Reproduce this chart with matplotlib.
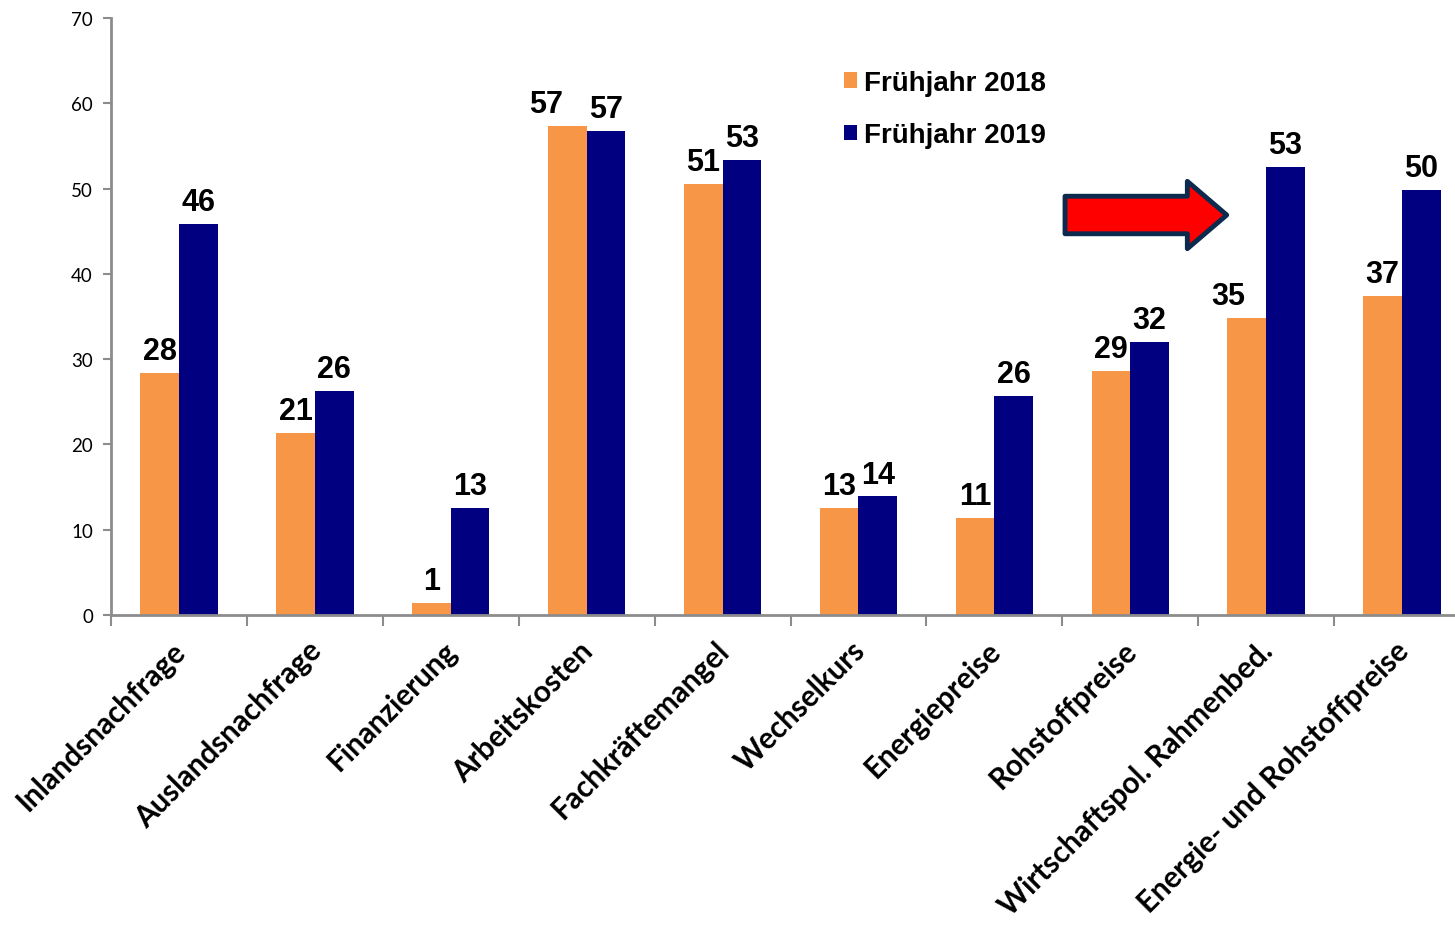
# Bar chart: Risiken für die Geschäftsentwicklung, Frühjahr 2018 vs. 2019
import matplotlib.pyplot as plt
import matplotlib.patches as mpatches
import matplotlib.transforms as mtransforms
import numpy as np

categories = ['Inlandsnachfrage', 'Auslandsnachfrage', 'Finanzierung', 'Arbeitskosten',
              'Fachkräftemangel', 'Wechselkurs', 'Energiepreise', 'Rohstoffpreise',
              'Wirtschaftspol. Rahmenbed.', 'Energie- und Rohstoffpreise']
values_2018 = [28.4, 21.3, 1.4, 57.3, 50.5, 12.6, 11.4, 28.6, 34.8, 37.4]
values_2019 = [45.9, 26.3, 12.6, 56.7, 53.3, 13.9, 25.7, 32.0, 52.5, 49.8]
labels_2018 = [28, 21, 1, 57, 51, 13, 11, 29, 35, 37]
labels_2019 = [46, 26, 13, 57, 53, 14, 26, 32, 53, 50]

orange = '#F79646'
navy = '#000080'
grey = '#8c8c8c'

fig = plt.figure(figsize=(14.55, 9.28), dpi=100)
ax = fig.add_axes([111 / 1455, 1 - 616 / 928, 1359 / 1455, 597 / 928])

x = np.arange(len(categories))
w = 0.285
b1 = ax.bar(x - w / 2, values_2018, w, color=orange, label='Frühjahr 2018')
b2 = ax.bar(x + w / 2, values_2019, w, color=navy, label='Frühjahr 2019')

# some orange labels were nudged left in the original so they don't collide
nudge_2018 = {3: -15, 8: -13}
for bars, labs, nudge in [(b1, labels_2018, nudge_2018), (b2, labels_2019, {})]:
    for i, (bar, lab) in enumerate(zip(bars, labs)):
        ax.annotate(str(lab), (bar.get_x() + bar.get_width() / 2, bar.get_height()),
                    xytext=(nudge.get(i, 0), 5), textcoords='offset points',
                    ha='center', va='bottom',
                    fontsize=22, fontweight='bold', family='Liberation Sans')

ax.set_xlim(-0.5, len(categories) - 0.5)
ax.set_ylim(0, 70)
ax.set_yticks(range(0, 71, 10))
ax.tick_params(axis='y', direction='out', length=6, width=1.5, color=grey,
               labelsize=13.5, pad=7)
for t in ax.get_yticklabels():
    t.set_family('Lato')

ax.set_xticks(x)
ax.set_xticklabels(categories, rotation=45, ha='right', va='top', rotation_mode='anchor',
                   fontsize=21.3, fontweight='bold', family='Lato')
ax.tick_params(axis='x', length=0, pad=15)
shift = mtransforms.ScaledTranslation(-8 / 100, 0, fig.dpi_scale_trans)
for t in ax.get_xticklabels():
    t.set_transform(t.get_transform() + shift)
ax.set_xticks(np.arange(-0.5, len(categories), 1), minor=True)
ax.tick_params(axis='x', which='minor', direction='out', length=8, width=1.5, color=grey)

for s in ['top', 'right']:
    ax.spines[s].set_visible(False)
for s in ['left', 'bottom']:
    ax.spines[s].set_color(grey)
    ax.spines[s].set_linewidth(2)

# red arrow pointing at Wirtschaftspol. Rahmenbed.
arrow = mpatches.FancyArrow(6.52, 46.9, 1.19, 0, width=4.4, head_width=7.9,
                            head_length=0.29, length_includes_head=True,
                            facecolor='#ff0000', edgecolor='#0b2a4d', linewidth=3.5,
                            joinstyle='round', clip_on=False, zorder=5)
ax.add_patch(arrow)

leg = ax.legend(loc='upper left', bbox_to_anchor=(844 / 1455, 1 - 71 / 928),
                bbox_transform=fig.transFigure, frameon=False, handlelength=0.47,
                handleheight=0.47, handletextpad=0.25, labelspacing=0.95,
                borderpad=0, borderaxespad=0,
                prop={'family': 'Liberation Sans', 'weight': 'bold', 'size': 20})

fig.savefig('out.png', dpi=100)
